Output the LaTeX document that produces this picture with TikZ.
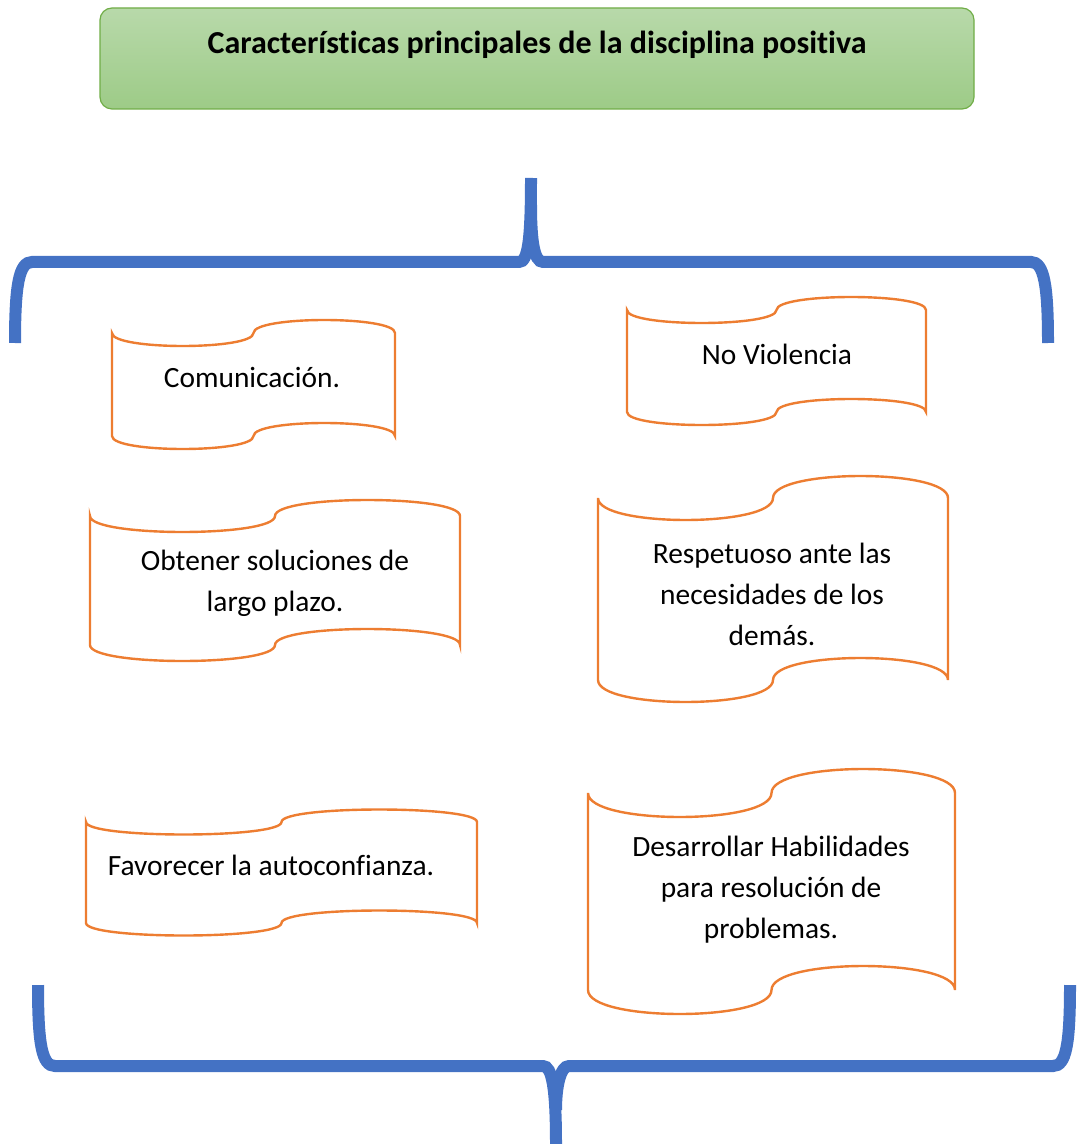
\documentclass[tikz,border=0pt]{standalone}
\usepackage{fontspec}
\setmainfont{Carlito}[Ligatures=NoCommon]

\definecolor{braceblue}{RGB}{68,114,196}
\definecolor{waveorange}{RGB}{237,125,49}
\definecolor{titleedge}{RGB}{112,173,71}
\definecolor{titletop}{RGB}{184,217,170}
\definecolor{titlebottom}{RGB}{157,203,135}

% wave outline: left, top corner, right, bottom corner, amplitude
\newcommand{\wavebox}[5]{%
  \pgfmathsetmacro{\wmid}{(#1+#3)/2}%
  \pgfmathsetmacro{\wbend}{1.333*#5}%
  \draw[wave] (#1,#2) .. controls (#1,#2+\wbend) and (\wmid,#2+\wbend) .. (\wmid,#2)
    .. controls (\wmid,#2-\wbend) and (#3,#2-\wbend) .. (#3,#2)
    -- (#3,#4) .. controls (#3,#4-\wbend) and (\wmid,#4-\wbend) .. (\wmid,#4)
    .. controls (\wmid,#4+\wbend) and (#1,#4+\wbend) .. (#1,#4) -- cycle;}

\begin{document}
\begin{tikzpicture}[
    x=0.5pt, y=-0.5pt,
    titlebox/.style={draw=titleedge, line width=0.6pt, top color=titletop, bottom color=titlebottom,
      rounded corners=6pt, minimum width=437pt, minimum height=50.5pt, text depth=16pt,
      font=\bfseries\fontsize{16}{19}\selectfont},
    wavetext/.style={align=center, inner sep=0pt, font=\fontsize{14.7}{20.5}\selectfont},
    wave/.style={draw=waveorange, line width=1.2pt, fill=white},
    brace/.style={draw=braceblue, line width=6pt}
  ]
  \useasboundingbox (0,0) rectangle (1078,1144);

  % Title
  \node[titlebox] (title) at (537,58.5) {Características principales de la disciplina positiva};

  % Braces
  \draw[brace] (15,343) .. controls (15,285) and (19,262) .. (32,262) -- (519,262)
    .. controls (528,262) and (531,240) .. (531,178);
  \draw[brace] (1048,343) .. controls (1048,285) and (1044,262) .. (1031,262) -- (543,262)
    .. controls (534,262) and (531,240) .. (531,205);
  \draw[brace] (38,985) .. controls (38,1045) and (42,1066) .. (55,1066) -- (543,1066)
    .. controls (552,1066) and (556,1088) .. (556,1144);
  \draw[brace] (1070,985) .. controls (1070,1045) and (1066,1066) .. (1053,1066) -- (569,1066)
    .. controls (560,1066) and (556,1088) .. (556,1110);

  % Wave shapes
  \wavebox{112}{333}{395}{436}{13}
  \wavebox{627}{310}{926}{412}{13}
  \wavebox{90}{516}{460}{645}{16}
  \wavebox{598}{498}{948}{680}{22}
  \wavebox{86}{822}{477}{923}{12.5}
  \wavebox{588}{793}{955}{990}{24}

  % Nodes
  \node[wavetext] (comm) at (252,378) {Comunicación.};
  \node[wavetext] (noviol) at (777,354) {No Violencia};
  \node[wavetext] (soluc) at (275,583) {Obtener soluciones de\\largo plazo.};
  \node[wavetext] (respeto) at (772,594) {Respetuoso ante las\\necesidades de los\\demás.};
  \node[wavetext] (autoconf) at (271,865) {Favorecer la autoconfianza.};
  \node[wavetext] (habil) at (771,890) {Desarrollar Habilidades\\para resolución de\\problemas.};
\end{tikzpicture}
\end{document}
